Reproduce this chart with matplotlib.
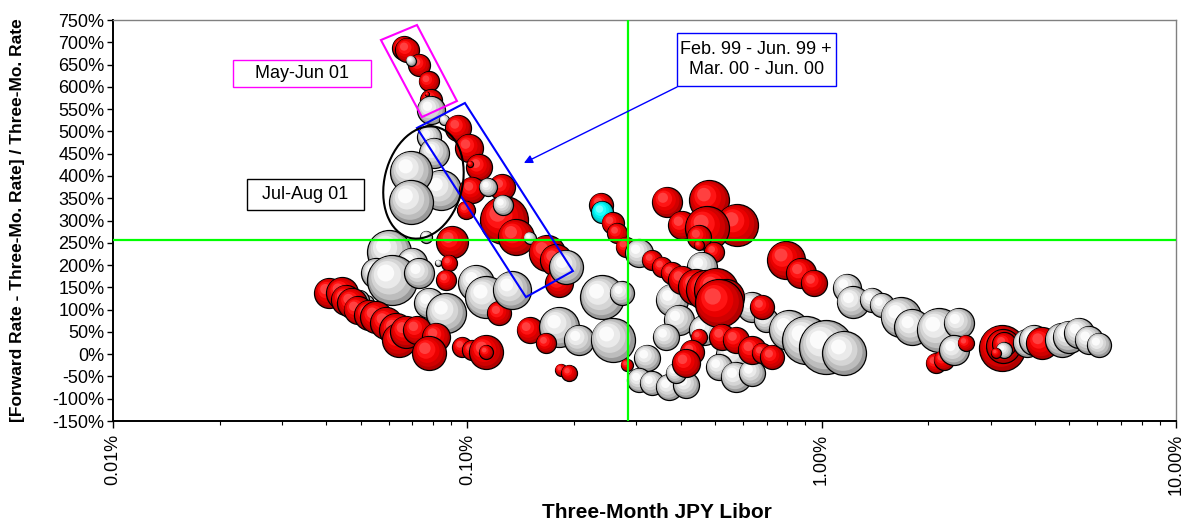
import numpy as np
import matplotlib
matplotlib.use("Agg")
import matplotlib.pyplot as plt
from matplotlib.patches import Polygon, Ellipse, Rectangle, FancyArrowPatch
from matplotlib.transforms import ScaledTranslation
from matplotlib.ticker import FixedLocator, LogLocator, NullFormatter

plt.rcParams['font.family'] = ['Liberation Sans', 'DejaVu Sans']

# three-month JPY libor (%), forward spread (%), bubble size, colour group
libor = [0.0603, 0.070, 0.0554, 0.0615, 0.0733, 0.0782, 0.0873, 0.106, 0.113, 0.0519, 0.0496, 0.0767,
         0.0782, 0.0808, 0.0845, 0.0695, 0.0695,
         0.0664, 0.0677, 0.0733, 0.0694, 0.0778, 0.0791, 0.0770, 0.0791, 0.0862,
         0.0908, 0.089, 0.0829, 0.0873,
         0.0408, 0.0444, 0.0455, 0.0474, 0.049, 0.0529, 0.0554, 0.0591, 0.0631, 0.0643, 0.0673, 0.0722,
         0.0818, 0.0782, 0.0969, 0.1033, 0.113, 0.113,
         0.123, 0.150, 0.182, 0.207, 0.167, 0.2407, 0.273, 0.257, 0.184, 0.194,
         0.0943, 0.1013, 0.108, 0.102, 0.1033, 0.1254, 0.1145, 0.0994, 0.127, 0.1262, 0.137, 0.150,
         0.1674, 0.178, 0.182, 0.1904, 0.1336,
         0.239, 0.2407, 0.257, 0.265, 0.280, 0.306, 0.332, 0.355, 0.378,
         0.366, 0.482, 0.577, 0.404, 0.475, 0.451, 0.451, 0.498,
         0.460, 0.378, 0.396, 0.364, 0.322, 0.466, 0.636, 0.697, 0.566, 0.514, 0.573, 0.636,
         0.306, 0.332, 0.371, 0.415, 0.388, 0.282,
         0.404, 0.4425, 0.472, 0.504, 0.538, 0.514, 0.451, 0.4315, 0.415, 0.524, 0.573, 0.636,
         0.679, 0.725, 0.679, 0.774, 0.794, 0.876, 0.952,
         0.809, 0.905, 1.03, 1.16, 1.18, 1.224, 1.387, 1.48, 1.67, 1.805, 2.14, 2.44,
         2.10, 2.21, 2.37, 2.55, 3.23, 3.26, 3.28, 3.27, 3.11, 3.80, 3.98, 4.19, 4.77, 4.99,
         5.33, 5.68, 6.07]
spread = [229, 205, 182, 167, 182, 115, 92, 160, 128, 115, 122, 263,
          487, 452, 369, 409, 342,
          687, 683, 649, 659, 612, 570, 584, 548, 526,
          252, 205, 205, 167,
          137, 137, 122, 115, 99, 88, 83, 70, 54, 32, 50, 54,
          39, 3, 16, 9, 5, 5,
          92, 54, 61, 32, 25, 128, 137, 32, -35, -42,
          508, 463, 420, 427, 369, 375, 375, 324, 301, 335, 263, 261,
          227, 211, 160, 196, 144,
          335, 319, 294, 272, 241, 227, 211, 196, 182,
          342, 346, 290, 290, 283, 263, 245, 229,
          196, 122, 77, 39, -8, 54, 106, 77, -2, -29, -51, -42,
          -58, -65, -74, -69, -42, -24,
          167, 151, 144, 144, 128, 115, 39, 5, -20, 39, 32, 9,
          3, -6, 106, 61, 211, 182, 160,
          54, 32, 16, 3, 149, 117, 122, 110, 83, 61, 54, 70,
          -20, -13, 9, 25, 14, 18, 22, 9, 3, 25, 32, 25, 32, 39,
          48, 32, 21]
bubble = [22, 15, 15, 25, 15, 15, 20, 18, 21, 8, 10, 6,
          12, 15, 20, 21, 22,
          12, 12, 11, 5, 10, 11, 2, 14, 5,
          16, 8, 3, 10,
          15, 16, 15, 15, 14, 15, 16, 16, 17, 17, 16, 14,
          14, 17, 10, 10, 17, 7,
          12, 13, 20, 15, 10, 22, 12, 22, 6, 8,
          13, 14, 13, 3, 13, 13, 9, 9, 24, 10, 18, 6,
          18, 16, 14, 17, 19,
          12, 11, 11, 10, 10, 14, 10, 10, 11,
          15, 20, 21, 14, 22, 12, 5, 10,
          15, 16, 15, 13, 13, 15, 15, 12, 18, 13, 15, 13,
          12, 12, 13, 13, 10, 6,
          14, 18, 20, 22, 18, 24, 8, 12, 14, 13, 13, 14,
          10, 12, 12, 8, 19, 15, 13,
          20, 24, 27, 22, 14, 16, 12, 12, 20, 18, 22, 15,
          10, 10, 15, 8, 23, 17, 12, 8, 5, 14, 15, 16, 17, 16,
          15, 14, 12]
group = list("WWWWWWWWWWWW" "WWWWW" "RRRWRRRWW" "RRWR" "RRRRRRRRRRRR" "RRRRRR"
             "RRWWRWWWRR" "RRRRRRWRRWRW" "RRRWW" "RCRRRWRRR" "RRRRRRRR"
             "WWWWWWWWWWWW" "WWWWWR" "RRRRRRRRRRRR" "RRRRRRR"
             "WWWWWWWWWWWW" "RRWRRRRWRWWRWW" "WWW")

shades = {
    'R': ['#B00000', '#D00000', '#EA0000', '#FF1414', '#FF4040'],
    'W': ['#9A9A9A', '#BDBDBD', '#D5D5D5', '#EAEAEA', '#FBFBFB'],
    'C': ['#00B4B4', '#00D8D8', '#00F0F0', '#20FFFF', '#70FFFF'],
}
fracs = [1.0, 0.88, 0.72, 0.55, 0.34]
shift = [0.0, 0.06, 0.13, 0.20, 0.27]

fig = plt.figure(figsize=(11.84, 5.21), dpi=100)
ax = fig.add_axes([0.0954, 0.1919, 0.8978, 0.7697])
ax.set_xscale('log')
ax.set_xlim(0.01, 10)
ax.set_ylim(-150, 750)

for i, (x, y, b, g) in enumerate(zip(libor, spread, bubble, group)):
    for k in range(5):
        d = shift[k] * b / 100.0
        tr = ax.transData + ScaledTranslation(-d, d, fig.dpi_scale_trans)
        ax.scatter([x], [y], s=(2 * fracs[k] * b * 0.72) ** 2, c=shades[g][k],
                   edgecolors='black' if k == 0 else 'none',
                   linewidths=0.9 if k == 0 else 0, transform=tr,
                   zorder=2 + i * 0.001 + k * 0.0001)

# reference lines
ax.axvline(0.285, color='#00FF00', lw=1.6, zorder=5)
ax.axhline(256, color='#00FF00', lw=1.6, zorder=5)

# axes styling
for side in ['top', 'right']:
    ax.spines[side].set_color('#808080')
    ax.spines[side].set_linewidth(1.0)
for side in ['left', 'bottom']:
    ax.spines[side].set_color('black')
    ax.spines[side].set_linewidth(1.4)

ax.yaxis.set_major_locator(FixedLocator(np.arange(-150, 751, 50)))
ax.set_yticklabels([f"{v}%" for v in range(-150, 751, 50)])
ax.xaxis.set_major_locator(FixedLocator([0.01, 0.1, 1, 10]))
ax.set_xticklabels(["0.01%", "0.10%", "1.00%", "10.00%"], rotation=90)
ax.xaxis.set_minor_locator(LogLocator(base=10, subs=np.arange(2, 10)))
ax.xaxis.set_minor_formatter(NullFormatter())
ax.tick_params(axis='y', direction='out', length=4, width=1, labelsize=13, pad=2)
ax.tick_params(axis='x', which='major', direction='out', length=5, width=1, labelsize=13, pad=4)
ax.tick_params(axis='x', which='minor', direction='out', length=3, width=0.8)

ax.set_xlabel("Three-Month JPY Libor", fontsize=15, fontweight='bold')
ax.xaxis.label.set_va('center')
ax.xaxis.set_label_coords(0.512, -0.227)
ax.set_ylabel("[Forward Rate - Three-Mo. Rate] / Three-Mo. Rate", fontsize=12.5, fontweight='bold')
ax.yaxis.label.set_va('center')
ax.yaxis.set_label_coords(-0.0894, 0.5)

# annotation shapes (axes fraction)
mag = Polygon([(0.2521, 0.9501), (0.2860, 0.9875), (0.3236, 0.798), (0.2907, 0.758)],
              closed=True, fill=False, edgecolor='#FF00FF', lw=1.5,
              transform=ax.transAxes, zorder=10)
ax.add_patch(mag)
blu = Polygon([(0.286, 0.7307), (0.3311, 0.793), (0.4327, 0.374), (0.3885, 0.309)],
              closed=True, fill=False, edgecolor='#0000FF', lw=1.5,
              transform=ax.transAxes, zorder=10)
ax.add_patch(blu)
ell = Ellipse((0, 0), width=0.78, height=1.14, angle=-13.7, fill=False,
              edgecolor='black', lw=1.5,
              transform=fig.dpi_scale_trans + ScaledTranslation(0.2921, 0.5948, ax.transAxes),
              zorder=10)
ax.add_patch(ell)

boxes = [((0.1129, 0.833), 0.1298, 0.067, '#FF00FF', "May-Jun 01"),
         ((0.1258, 0.5262), 0.1106, 0.0765, 'black', "Jul-Aug 01"),
         ((0.5303, 0.8354), 0.1497, 0.1322, '#0000FF', "Feb. 99 - Jun. 99 +\nMar. 00 - Jun. 00")]
for (x0, y0), w, h, ec, txt in boxes:
    ax.add_patch(Rectangle((x0, y0), w, h, transform=ax.transAxes, facecolor='white',
                           edgecolor=ec, lw=1.0, zorder=11))
    ax.text(x0 + w / 2, y0 + h / 2, txt, transform=ax.transAxes, ha='center', va='center',
            fontsize=13, linespacing=1.3, zorder=12)

arr = FancyArrowPatch((0.5306, 0.8329), (0.3866, 0.6434), transform=ax.transAxes,
                      arrowstyle='-|>,head_length=5,head_width=2.5', color='#0000FF',
                      lw=1.0, zorder=10, shrinkA=0, shrinkB=0)
ax.add_patch(arr)

fig.savefig("out.png", dpi=100)
